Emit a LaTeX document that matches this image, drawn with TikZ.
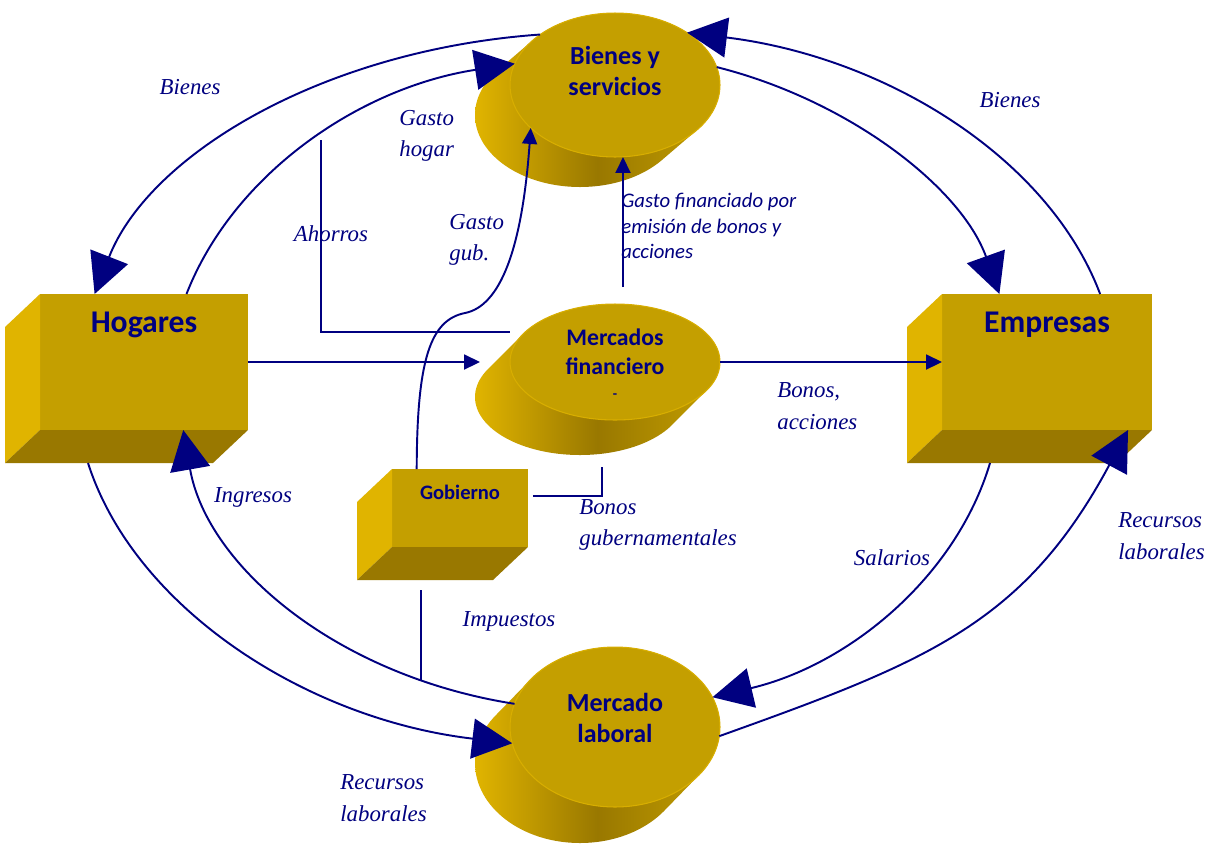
\documentclass[tikz,border=0pt]{standalone}
\usepackage{fontspec}
\setmainfont{Liberation Serif}
\newfontfamily\calibri{Carlito}
\usetikzlibrary{calc, shapes.geometric, arrows.meta}

\definecolor{azul}{HTML}{000080}
\definecolor{oroclaro}{HTML}{E0B400}
\definecolor{oro}{HTML}{C49F00}
\definecolor{orooscuro}{HTML}{997800}

\tikzset{
	flujo/.style={draw=azul, line width=1.1pt},
	flecha/.style={flujo, -{Triangle[length=0.8cm, width=0.8cm]}},
	flechita/.style={flujo, -{Triangle[length=0.32cm, width=0.3cm]}},
	cara/.style={fill=oro, inner sep=0pt, outer sep=0pt},
	tapa/.style={ellipse, fill=oro, draw=oroclaro!70!oro, line width=0.6pt, inner sep=0pt, outer sep=0pt},
	titulo/.style 2 args={font=\calibri\bfseries\fontsize{#1}{#2}\selectfont, text=azul, align=center},
	rotulo/.style={font=\itshape\fontsize{13}{18}\selectfont, text=azul, align=left, inner sep=0pt}
}

\begin{document}
\begin{tikzpicture}[x=0.02cm, y=0.02cm]
	\path[use as bounding box, fill=white] (0,0) rectangle (1212,-846);

	\def\cilindro#1#2#3#4{
		\shade[left color=oroclaro, right color=oro, middle color=orooscuro]
			\foreach \k in {0,...,24} {(#1-35*\k/24, #2-#4*\k/24) ellipse [x radius=105, y radius=#3]};
	}
	\def\caja#1{
		\fill[oroclaro] (#1.north west) -- ++(-35,-33) -- ($(#1.south west)+(-35,-33)$) -- (#1.south west) -- cycle;
		\fill[orooscuro] (#1.south west) -- ++(-35,-33) -- ($(#1.south east)+(-35,-33)$) -- (#1.south east) -- cycle;
	}

	\begin{scope}
		\node[cara, minimum width=4.16cm, minimum height=2.72cm,
			label={[titulo={18}{20}, yshift=0.74cm]center:Hogares}] (hog) at (144,-362) {};
		\caja{hog}
		\node[cara, minimum width=4.2cm, minimum height=2.72cm,
			label={[titulo={18}{20}, yshift=0.74cm]center:Empresas}] (emp) at (1047,-362) {};
		\caja{emp}
		\node[cara, minimum width=2.72cm, minimum height=1.56cm,
			label={[titulo={11.7}{14}, yshift=0.32cm]center:Gobierno}] (gob) at (460,-508) {};
		\caja{gob}
	\end{scope}

	\begin{scope}
		\cilindro{615}{-85}{72}{30}
		\node[tapa, minimum width=4.2cm, minimum height=2.88cm,
			label={[titulo={14.8}{18}, yshift=0.28cm]center:{Bienes y\\servicios}}] (bys) at (615,-85) {};
		\cilindro{615}{-362}{58}{35}
		\node[tapa, minimum width=4.2cm, minimum height=2.32cm,
			label={[titulo={13.5}{16.5}, yshift=-0.04cm]center:{Mercados\\financiero\\[-3pt]{\fontsize{8}{8}\selectfont -}}}] (mf) at (615,-362) {};
		\cilindro{615}{-727}{80}{36}
		\node[tapa, minimum width=4.2cm, minimum height=3.2cm,
			label={[titulo={14.8}{17.6}, yshift=0.19cm]center:{Mercado\\laboral}}] (ml) at (615,-727) {};
	\end{scope}

	\begin{scope}
		\draw[flecha] (bys.146) .. controls (322,-50) and (149,-155) .. (hog.126);
		\draw[flecha] (hog.58) .. controls (233,-175) and (358,-88) .. (bys.168);
		\draw[flecha] (emp.52) .. controls (1049,-158) and (886,-57) .. (bys.36);
		\draw[flecha] (bys.10) .. controls (848,-100) and (961,-187) .. (emp.125);
		\draw[flecha] ($(hog.south west)+(48,-33)$) .. controls (134,-607) and (305,-719) .. (ml.189);
		\draw[flecha] (ml.167) .. controls (337,-676) and (207,-566) .. (hog.300);
		\draw[flecha] ($(emp.south west)+(48,-33)$) .. controls (956,-577) and (849,-665) .. (ml.17);
		\draw[flecha] (ml.355) .. controls (926,-662) and (1024,-624) .. (emp.320);
	\end{scope}

	\begin{scope}
		\coordinate (ahorro) at (321,-140);
		\coordinate (bonosgub) at (602,-467);
		\draw[flechita] (hog.east) -- ([xshift=-0.6cm]mf.west);
		\draw[flechita] (mf.east) -- (emp.west);
		\draw[flujo] (ahorro) |- ([yshift=0.6cm]mf.west);
		\draw[flechita] (gob.138) .. controls (417,-360) and (430,-320) .. (465,-313)
			.. controls (500,-306) and (522,-250) .. (bys.207);
		\draw[flechita] ([xshift=0.16cm, yshift=0.34cm]mf.north) -- ([xshift=0.16cm]bys.south);
		\draw[flujo] ([shift={(0.1cm,0.24cm)}]gob.east) -| (bonosgub);
		\draw[flujo] ($(gob.south)+(-39,-43)$) -- ++(0,-90);
	\end{scope}

	\node[rotulo] (bienesizq) at (190,-87) {Bienes};
	\node[rotulo, anchor=west] (gastohogar) at (399,-136) {Gasto\\hogar};
	\node[rotulo] (ahorros) at (331,-234) {Ahorros};
	\node[rotulo, anchor=west] (gastogub) at (449,-240) {Gasto\\gub.};
	\node[rotulo] (bienesder) at (1010,-100) {Bienes};
	\node[rotulo, anchor=west] (bonos) at (777,-406) {Bonos,\\acciones};
	\node[rotulo] (ingresos) at (253,-497) {Ingresos};
	\node[rotulo, anchor=west] (bonosgubtxt) at (579,-525) {Bonos\\gubernamentales};
	\node[rotulo] (salarios) at (892,-558) {Salarios};
	\node[rotulo, anchor=west] (recursosder) at (1118,-536) {Recursos\\laborales};
	\node[rotulo] (impuestos) at (509,-621) {Impuestos};
	\node[rotulo, anchor=west] (recursosizq) at (340,-798) {Recursos\\laborales};
	\node[rotulo, anchor=west, font=\calibri\itshape\fontsize{11.8}{14.7}\selectfont] (gastofin) at (621,-226)
		{Gasto financiado por\\emisión de bonos y\\acciones};
\end{tikzpicture}
\end{document}
